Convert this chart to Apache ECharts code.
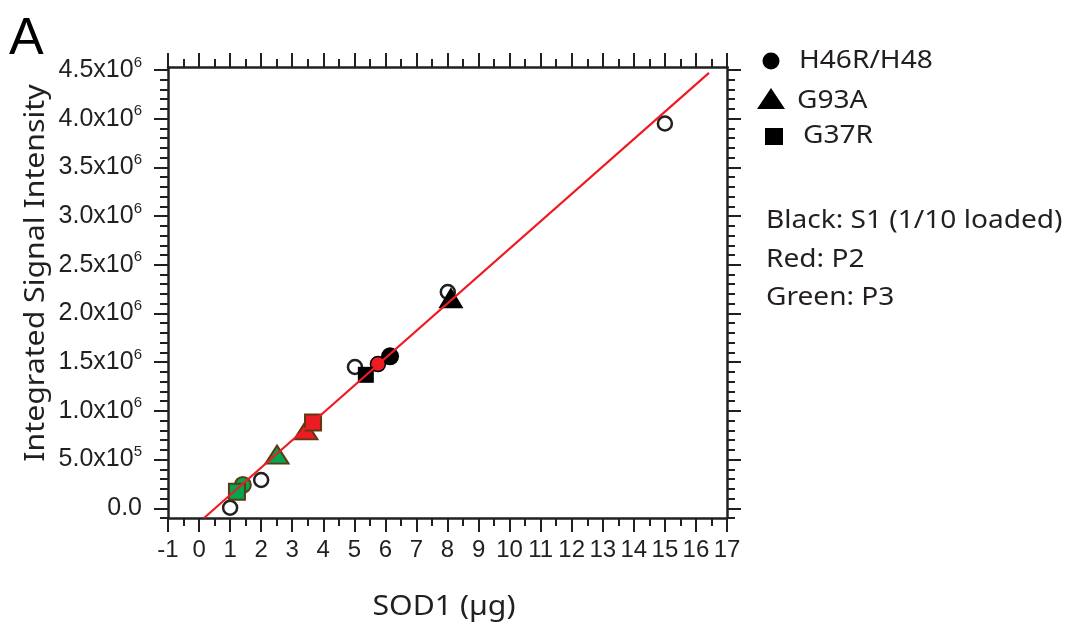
<!DOCTYPE html>
<html>
<head>
<meta charset="utf-8">
<script src="https://cdn.jsdelivr.net/npm/echarts@6/dist/echarts.min.js"></script>
<style>
  html, body { margin: 0; padding: 0; background: #fff; }
  #chart { width: 1070px; height: 629px; }
</style>
</head>
<body>
<div id="chart"></div>
<script>
// values (x in µg, y in signal units)
const openX = [1.0, 2.0, 5.02, 8.01, 15.0];
const openY = [5000, 290000, 1450000, 2220000, 3950000];

const s1CircleX = [6.15];
const s1CircleY = [1560000];
const s1TriX = [8.11];
const s1TriY = [2160000];
const s1SquareX = [5.37];
const s1SquareY = [1370000];

const p2CircleX = [5.76];
const p2CircleY = [1480000];
const p2TriX = [3.44];
const p2TriY = [800000];
const p2SquareX = [3.67];
const p2SquareY = [880000];

const p3CircleX = [1.41];
const p3CircleY = [240000];
const p3SquareX = [1.22];
const p3SquareY = [170000];
const p3TriX = [2.51];
const p3TriY = [550000];

// fitted line end points
const fitX = [0.16, 16.42];
const fitY = [-100000, 4470000];

const yTickVals = [0, 500000, 1000000, 1500000, 2000000, 2500000, 3000000, 3500000, 4000000, 4500000];
const yMinorVals = [];
for (let v = -100000; v <= 4500000; v += 100000) {
  if (v % 500000 !== 0) yMinorVals.push(v);
}

const ink = '#231f20';
const red = '#ed1c24';
const green = '#00a651';
const brown = '#603913';

function pairs(xs, ys) {
  return xs.map((x, i) => [x, ys[i]]);
}

function yFmt(v) {
  if (v === 0) return '0.0';
  const e = Math.floor(Math.log10(v) + 1e-9);
  const m = v / Math.pow(10, e);
  return '{b|' + m.toFixed(1) + 'x10}{s|' + e + '}';
}

const chart = echarts.init(document.getElementById('chart'));

const xBase = {
  type: 'value', min: -1, max: 17, interval: 1,
  splitLine: { show: false },
  axisLine: { show: true, onZero: false, lineStyle: { color: ink, width: 2.5 } },
  axisTick: { show: true, inside: false, length: 14, lineStyle: { color: ink, width: 2 } },
  minorTick: { show: true, splitNumber: 2, length: 8, lineStyle: { color: ink, width: 2 } },
  minorSplitLine: { show: false }
};

const yBase = {
  type: 'value', min: -100000, max: 4530000,
  splitLine: { show: false },
  axisLine: { show: false, onZero: false },
  axisLabel: { show: false }
};

const symText = (txt, x, y) => ({
  type: 'text', x: x, y: y, scaleX: 1.08,
  style: { text: txt, x: 0, y: 0, font: '26px "Noto Sans"', fill: ink, textVerticalAlign: 'middle' }
});

function scatter(xs, ys, symbol, size, style) {
  return {
    type: 'scatter', data: pairs(xs, ys), symbol: symbol, symbolSize: size,
    itemStyle: Object.assign({ opacity: 1 }, style),
    emphasis: { disabled: true }
  };
}

const option = {
  animation: false,
  grid: { left: 168, right: 343, top: 67, bottom: 111 },
  xAxis: [
    Object.assign({}, xBase, {
      position: 'bottom',
      axisLabel: {
        show: true, margin: 20, color: ink, fontSize: 24, fontFamily: 'Liberation Sans',
        showMinLabel: true, showMaxLabel: true
      }
    }),
    Object.assign({}, xBase, {
      position: 'top',
      axisLabel: { show: false }
    })
  ],
  yAxis: [
    Object.assign({}, yBase, {
      position: 'left',
      axisLine: { show: true, onZero: false, lineStyle: { color: ink, width: 2.5 } },
      axisTick: { show: true, customValues: yTickVals, length: 14, lineStyle: { color: ink, width: 2 } },
      axisLabel: {
        show: true, customValues: yTickVals, formatter: yFmt, margin: 26,
        color: ink, fontSize: 25, fontFamily: 'Liberation Sans',
        rich: {
          b: { fontSize: 25, fontFamily: 'Liberation Sans', color: ink, lineHeight: 30 },
          s: { fontSize: 15, fontFamily: 'Liberation Sans', color: ink, verticalAlign: 'top', lineHeight: 30 }
        }
      }
    }),
    Object.assign({}, yBase, {
      position: 'left',
      axisTick: { show: true, customValues: yMinorVals, length: 8, lineStyle: { color: ink, width: 2 } }
    }),
    Object.assign({}, yBase, {
      position: 'right',
      axisLine: { show: true, onZero: false, lineStyle: { color: ink, width: 2.5 } },
      axisTick: { show: true, customValues: yTickVals, length: 14, lineStyle: { color: ink, width: 2 } }
    }),
    Object.assign({}, yBase, {
      position: 'right',
      axisTick: { show: true, customValues: yMinorVals, length: 8, lineStyle: { color: ink, width: 2 } }
    })
  ],
  graphic: [
    {
      type: 'text', x: 9, y: 14,
      style: { text: 'A', x: 0, y: 0, font: '52px "Liberation Sans"', fill: '#000' }
    },
    {
      type: 'text', x: 36, y: 273, rotation: Math.PI / 2, scaleX: 1.12,
      style: { text: 'Integrated Signal Intensity', x: 0, y: 0, font: '27px "Noto Sans"', fill: ink,
        textAlign: 'center', textVerticalAlign: 'middle' }
    },
    {
      type: 'text', x: 444, y: 607, scaleX: 1.12,
      style: { text: 'SOD1 (\u00b5g)', x: 0, y: 0, font: '27px "Noto Sans"', fill: ink,
        textAlign: 'center', textVerticalAlign: 'middle' }
    },
    { type: 'circle', shape: { cx: 771, cy: 61, r: 8.5 }, style: { fill: '#000' } },
    { type: 'polygon', shape: { points: [[757, 109], [785, 109], [771, 88]] }, style: { fill: '#000' } },
    { type: 'rect', shape: { x: 765, y: 128, width: 18, height: 17 }, style: { fill: '#000' } },
    symText('H46R/H48', 799, 61),
    symText('G93A', 797, 101),
    symText('G37R', 803, 136),
    symText('Black: S1 (1/10 loaded)', 766, 221),
    symText('Red: P2', 766, 260),
    symText('Green: P3', 766, 298)
  ],
  series: [
    {
      type: 'line', data: pairs(fitX, fitY), symbol: 'none',
      lineStyle: { color: red, width: 2.2 }, silent: true
    },
    scatter(openX, openY, 'circle', 14, { color: '#fff', borderColor: ink, borderWidth: 2.5 }),
    scatter(s1CircleX, s1CircleY, 'circle', 18, { color: '#000' }),
    scatter(p2CircleX, p2CircleY, 'circle', 15, { color: red, borderColor: '#000', borderWidth: 1.5 }),
    scatter(s1SquareX, s1SquareY, 'rect', 16, { color: '#000' }),
    scatter(s1TriX, s1TriY, 'triangle', [25, 21], { color: '#000' }),
    scatter(p2TriX, p2TriY, 'triangle', [23, 18], { color: red, borderColor: brown, borderWidth: 2 }),
    scatter(p2SquareX, p2SquareY, 'rect', 16, { color: red, borderColor: brown, borderWidth: 2 }),
    scatter(p3CircleX, p3CircleY, 'circle', 16, { color: green, borderColor: brown, borderWidth: 2 }),
    scatter(p3SquareX, p3SquareY, 'rect', 16, { color: green, borderColor: brown, borderWidth: 2 }),
    scatter(p3TriX, p3TriY, 'triangle', [23, 18], { color: green, borderColor: brown, borderWidth: 2 })
  ]
};

chart.setOption(option);
</script>
</body>
</html>
